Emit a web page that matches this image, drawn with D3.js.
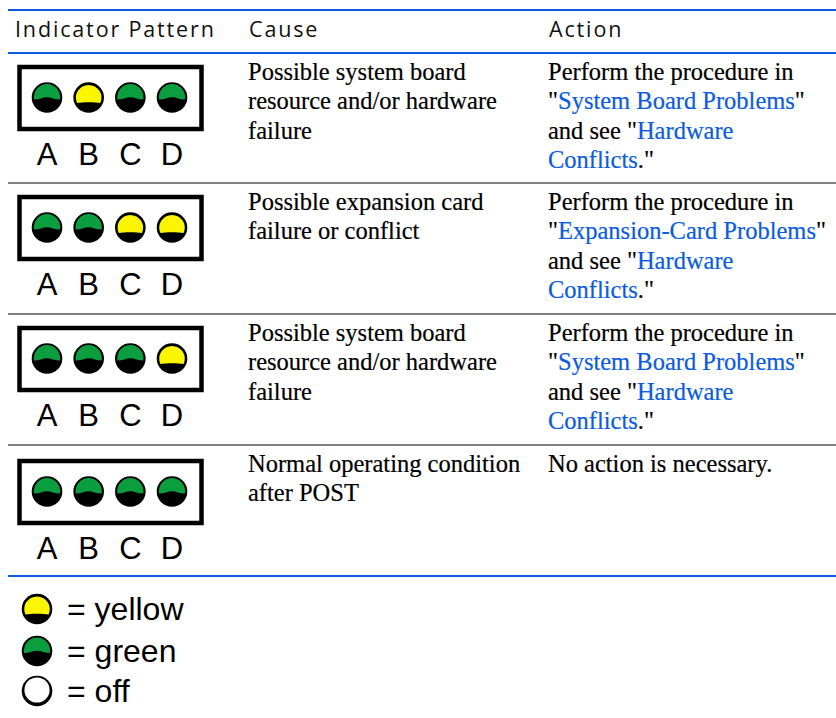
<!DOCTYPE html>
<html><head><meta charset="utf-8">
<script src="https://cdn.jsdelivr.net/npm/d3@7"></script>
<style>html,body{margin:0;padding:0;background:#fff}svg{display:block}</style>
</head><body><svg id="c" width="836" height="718"></svg>
<script>
const headers = ["Indicator Pattern","Cause","Action"];
const letters = ["A","B","C","D"];
const patterns = [["green","yellow","green","green"],["green","green","yellow","yellow"],["green","green","green","yellow"],["green","green","green","green"]];
const causes = [["Possible system board","resource and/or hardware","failure"],["Possible expansion card","failure or conflict"],["Possible system board","resource and/or hardware","failure"],["Normal operating condition","after POST"]];
const sb = [[["Perform the procedure in",0]],[['"',0],["System Board Problems",1],['"',0]],[['and see "',0],["Hardware",1]],[["Conflicts",1],['."',0]]];
const ex = [[["Perform the procedure in",0]],[['"',0],["Expansion-Card Problems",1],['"',0]],[['and see "',0],["Hardware",1]],[["Conflicts",1],['."',0]]];
const actions = [sb,ex,sb,[[["No action is necessary.",0]]]];
const legend = [["yellow","= yellow"],["green","= green"],["off","= off"]];
const rowTops = [53,183,314,445];
const boxTops = [65,195,326,459];
const colX = [15,249,549];
const legendY = [609,651,691];
const lineY = [[10,"#0a5be0"],[53,"#0a5be0"],[183,"#808080"],[314,"#808080"],[445,"#808080"],[576,"#0a5be0"]];

const svg = d3.select("#c");
const ledX = d3.scalePoint().domain(letters).range([47,172]);
const serif = "'Liberation Serif',serif", sans = "'Liberation Sans',sans-serif";
const blue="#0a5be0";

svg.selectAll("line.r").data(lineY).join("line").attr("x1",8).attr("x2",836)
  .attr("y1",d=>d[0]).attr("y2",d=>d[0]).attr("stroke",d=>d[1]).attr("stroke-width",2);

svg.selectAll("text.h").data(headers).join("text").attr("x",(d,i)=>colX[i]).attr("y",37)
  .attr("font-family","'Open Sans',sans-serif").attr("font-size",21.5).attr("letter-spacing",1.85).attr("fill","#111").text(d=>d);

function led(g,state){
  g.append("circle").attr("r",15.3).attr("fill","#000");
  if(state==="green") g.append("path").attr("fill","#0a9e3f")
    .attr("d","M-12.9,2 A13.1,13.1 0 1 1 12.9,2 C8,2 4,-0.3 0,-0.3 C-4,-0.3 -8,2 -12.9,2Z");
  if(state==="yellow") g.append("path").attr("fill","#fbf500")
    .attr("d","M-11.6,5.6 A12.8,12.8 0 1 1 11.6,5.6 C6,4.6 -6,4.6 -11.6,5.6Z");
  if(state==="off") g.append("circle").attr("r",12.6).attr("cy",-1).attr("fill","#fff");
}

patterns.forEach((p,r)=>{
  const t=boxTops[r];
  svg.append("rect").attr("x",19.5).attr("y",t+2).attr("width",182).attr("height",62)
    .attr("fill","#fff").attr("stroke","#000").attr("stroke-width",4.5);
  p.forEach((s,i)=>{
    const g=svg.append("g").attr("transform",`translate(${ledX(letters[i])},${t+32.5})`);
    led(g,s);
    svg.append("text").attr("x",ledX(letters[i])).attr("y",t+100).attr("text-anchor","middle")
      .attr("font-family",sans).attr("font-size",31).attr("fill","#000").text(letters[i]);
  });
  causes[r].forEach((l,j)=>{
    svg.append("text").attr("x",colX[1]-1).attr("y",rowTops[r]+27+j*29.3)
      .attr("font-family",serif).attr("font-size",24.5).attr("stroke","#000").attr("stroke-width",0.2).attr("fill","#000").text(l);
  });
  actions[r].forEach((l,j)=>{
    const tx=svg.append("text").attr("x",colX[2]-1).attr("y",rowTops[r]+27+j*29.3)
      .attr("font-family",serif).attr("font-size",24.5);
    l.forEach(seg=>tx.append("tspan").attr("fill",seg[1]?blue:"#000").attr("stroke",seg[1]?blue:"#000").attr("stroke-width",0.2).text(seg[0]));
  });
});

legend.forEach((d,i)=>{
  led(svg.append("g").attr("transform",`translate(37,${legendY[i]})`),d[0]);
  svg.append("text").attr("x",67).attr("y",legendY[i]+10.5).attr("font-family",sans)
    .attr("font-size",32).attr("fill","#000").text(d[1]);
});
</script></body></html>
